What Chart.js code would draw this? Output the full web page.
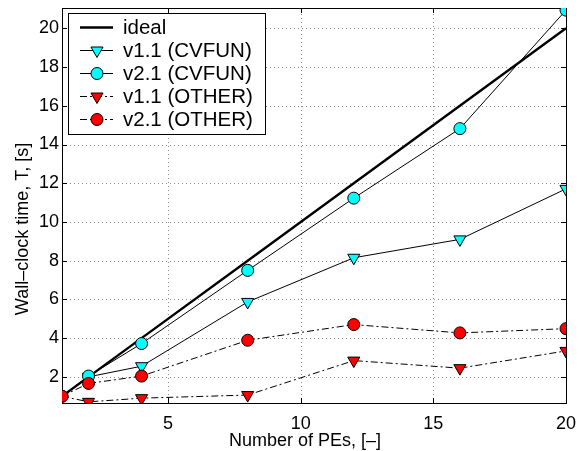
<!DOCTYPE html>
<html><head><meta charset="utf-8">
<script src="https://cdn.jsdelivr.net/npm/chart.js@4.4.0/dist/chart.umd.min.js"></script>
<style>html,body{margin:0;padding:0;background:#fff;} #wrap{width:579px;height:451px;}</style>
</head><body><div id="wrap"><canvas id="c" width="579" height="451"></canvas></div>
<script>
const pes = [1, 2, 4, 8, 12, 16, 20];
const ideal = [1, 2, 4, 8, 12, 16, 20];
const v11cvfun = [1, 2.0, 2.55, 5.87, 8.15, 9.1, 11.71];
const v21cvfun = [1, 2.04, 3.72, 7.5, 11.23, 14.82, 20.94];
const v11other = [1, 0.71, 0.9, 1.06, 2.84, 2.45, 3.34];
const v21other = [1, 1.66, 2.04, 3.89, 4.7, 4.27, 4.49];
const xTicks = [5, 10, 15, 20];
const yTicks = [2, 4, 6, 8, 10, 12, 14, 16, 18, 20];
const seriesNames = ['ideal', 'v1.1 (CVFUN)', 'v2.1 (CVFUN)', 'v1.1 (OTHER)', 'v2.1 (OTHER)'];
const xTitle = 'Number of PEs, [–]';
const yTitle = 'Wall–clock time, T, [s]';

const FONT = 'Liberation Sans, Arial, Helvetica, sans-serif';
const toXY = arr => pes.map((x, i) => ({x: x, y: arr[i]}));
const DASHDOT = [7, 3, 2, 3];

function mk(label, data, opts) {
  return Object.assign({
    label: label, data: toXY(data), borderColor: '#000', borderWidth: 1,
    pointBorderColor: '#000', pointBorderWidth: 1, tension: 0, fill: false
  }, opts);
}

const datasets = [
  mk(seriesNames[0], ideal, {borderWidth: 2.4, pointRadius: 0, order: 5, mk: null}),
  mk(seriesNames[1], v11cvfun, {pointStyle: 'triangle', pointRotation: 180, pointRadius: 7, pointBackgroundColor: '#00ffff', order: 4, mk: 'tri'}),
  mk(seriesNames[2], v21cvfun, {pointStyle: 'circle', pointRadius: 6, pointBackgroundColor: '#00ffff', order: 3, mk: 'cir'}),
  mk(seriesNames[3], v11other, {pointStyle: 'triangle', pointRotation: 180, pointRadius: 7, pointBackgroundColor: '#ff0000', borderDash: DASHDOT, order: 2, mk: 'tri'}),
  mk(seriesNames[4], v21other, {pointStyle: 'circle', pointRadius: 6, pointBackgroundColor: '#ff0000', borderDash: DASHDOT, order: 1, mk: 'cir'})
];

function drawMarker(ctx, kind, x, y, r, fill) {
  ctx.save();
  ctx.setLineDash([]);
  ctx.fillStyle = fill; ctx.strokeStyle = '#000'; ctx.lineWidth = 1;
  ctx.beginPath();
  if (kind === 'cir') {
    ctx.arc(x, y, r, 0, Math.PI * 2);
  } else {
    const a = Math.PI;
    for (let k = 0; k < 3; k++) {
      const ang = a + k * 2 * Math.PI / 3;
      const px = x + Math.sin(ang) * r, py = y - Math.cos(ang) * r;
      if (k === 0) ctx.moveTo(px, py); else ctx.lineTo(px, py);
    }
    ctx.closePath();
  }
  ctx.fill(); ctx.stroke();
  ctx.restore();
}

const framePlugin = {
  id: 'frame',
  beforeDatasetsDraw(chart) {
    const ctx = chart.ctx;
    const {left, right, top, bottom} = chart.chartArea;
    const xs = chart.scales.x, ys = chart.scales.y;
    ctx.save();
    ctx.strokeStyle = '#8c8c8c'; ctx.lineWidth = 1; ctx.setLineDash([1, 3]);
    xTicks.forEach(v => {
      const px = Math.round(xs.getPixelForValue(v)) + 0.5;
      if (px < right - 2) { ctx.beginPath(); ctx.moveTo(px, bottom); ctx.lineTo(px, top); ctx.stroke(); }
    });
    yTicks.forEach(v => {
      const py = Math.round(ys.getPixelForValue(v)) + 0.5;
      ctx.beginPath(); ctx.moveTo(left, py); ctx.lineTo(right, py); ctx.stroke();
    });
    ctx.setLineDash([]);
    ctx.strokeStyle = '#000';
    const T = 5;
    xTicks.forEach(v => {
      const px = Math.round(xs.getPixelForValue(v)) + 0.5;
      ctx.beginPath(); ctx.moveTo(px, bottom); ctx.lineTo(px, bottom - T);
      ctx.moveTo(px, top); ctx.lineTo(px, top + T); ctx.stroke();
    });
    yTicks.forEach(v => {
      const py = Math.round(ys.getPixelForValue(v)) + 0.5;
      ctx.beginPath(); ctx.moveTo(left, py); ctx.lineTo(left + T, py);
      ctx.moveTo(right, py); ctx.lineTo(right - T, py); ctx.stroke();
    });
    ctx.lineWidth = 1;
    ctx.strokeRect(Math.round(left) + 0.5, Math.round(top) + 0.5, Math.round(right - left), Math.round(bottom - top));
    ctx.fillStyle = '#000'; ctx.font = '18px ' + FONT;
    ctx.textAlign = 'center'; ctx.textBaseline = 'middle';
    ctx.fillText(xTitle, 305, 441);
    ctx.save();
    ctx.translate(23, 229); ctx.rotate(-Math.PI / 2);
    ctx.fillText(yTitle, 0, 0);
    ctx.restore();
    ctx.restore();
  },
  afterDraw(chart) {
    const ctx = chart.ctx;
    const x0 = 68, y0 = 13, w = 197, h = 121;
    ctx.save();
    ctx.fillStyle = '#fff'; ctx.fillRect(x0, y0, w, h);
    ctx.strokeStyle = '#000'; ctx.lineWidth = 1; ctx.strokeRect(x0 + 0.5, y0 + 0.5, w, h);
    chart.data.datasets.forEach((ds, i) => {
      const y = 27 + i * 23;
      ctx.save();
      ctx.strokeStyle = '#000'; ctx.lineWidth = ds.borderWidth;
      ctx.setLineDash(ds.borderDash || []);
      ctx.beginPath(); ctx.moveTo(80, y + 0.5); ctx.lineTo(113, y + 0.5); ctx.stroke();
      ctx.restore();
      if (ds.mk) drawMarker(ctx, ds.mk, 97, y + 0.5, ds.pointRadius, ds.pointBackgroundColor);
      ctx.fillStyle = '#000'; ctx.font = '20.5px ' + FONT; ctx.textBaseline = 'middle'; ctx.textAlign = 'left';
      ctx.fillText(ds.label, 123, y + 1);
    });
    ctx.restore();
  }
};

new Chart(document.getElementById('c'), {
  type: 'line',
  data: {datasets: datasets},
  options: {
    responsive: false, animation: false, devicePixelRatio: 1,
    layout: {padding: {top: 7, right: 13, left: 0, bottom: 0}},
    plugins: {legend: {display: false}, tooltip: {enabled: false}},
    elements: {line: {tension: 0}},
    scales: {
      x: {
        type: 'linear', min: 1, max: 20,
        afterBuildTicks: s => { s.ticks = xTicks.map(v => ({value: v})); },
        afterFit: s => { s.height = 48; s.paddingLeft = 0; s.paddingRight = 0; },
        grid: {display: false, drawTicks: false}, border: {display: false},
        ticks: {color: '#000', font: {family: FONT, size: 18}, padding: 10, maxRotation: 0, autoSkip: false}
      },
      y: {
        type: 'linear', min: 0.65, max: 21.05,
        afterBuildTicks: s => { s.ticks = yTicks.map(v => ({value: v})); },
        afterFit: s => { s.width = 62; s.paddingTop = 0; s.paddingBottom = 0; },
        grid: {display: false, drawTicks: false}, border: {display: false},
        ticks: {color: '#000', font: {family: FONT, size: 18}, padding: 3, autoSkip: false}
      }
    }
  },
  plugins: [framePlugin]
});
</script></body></html>
